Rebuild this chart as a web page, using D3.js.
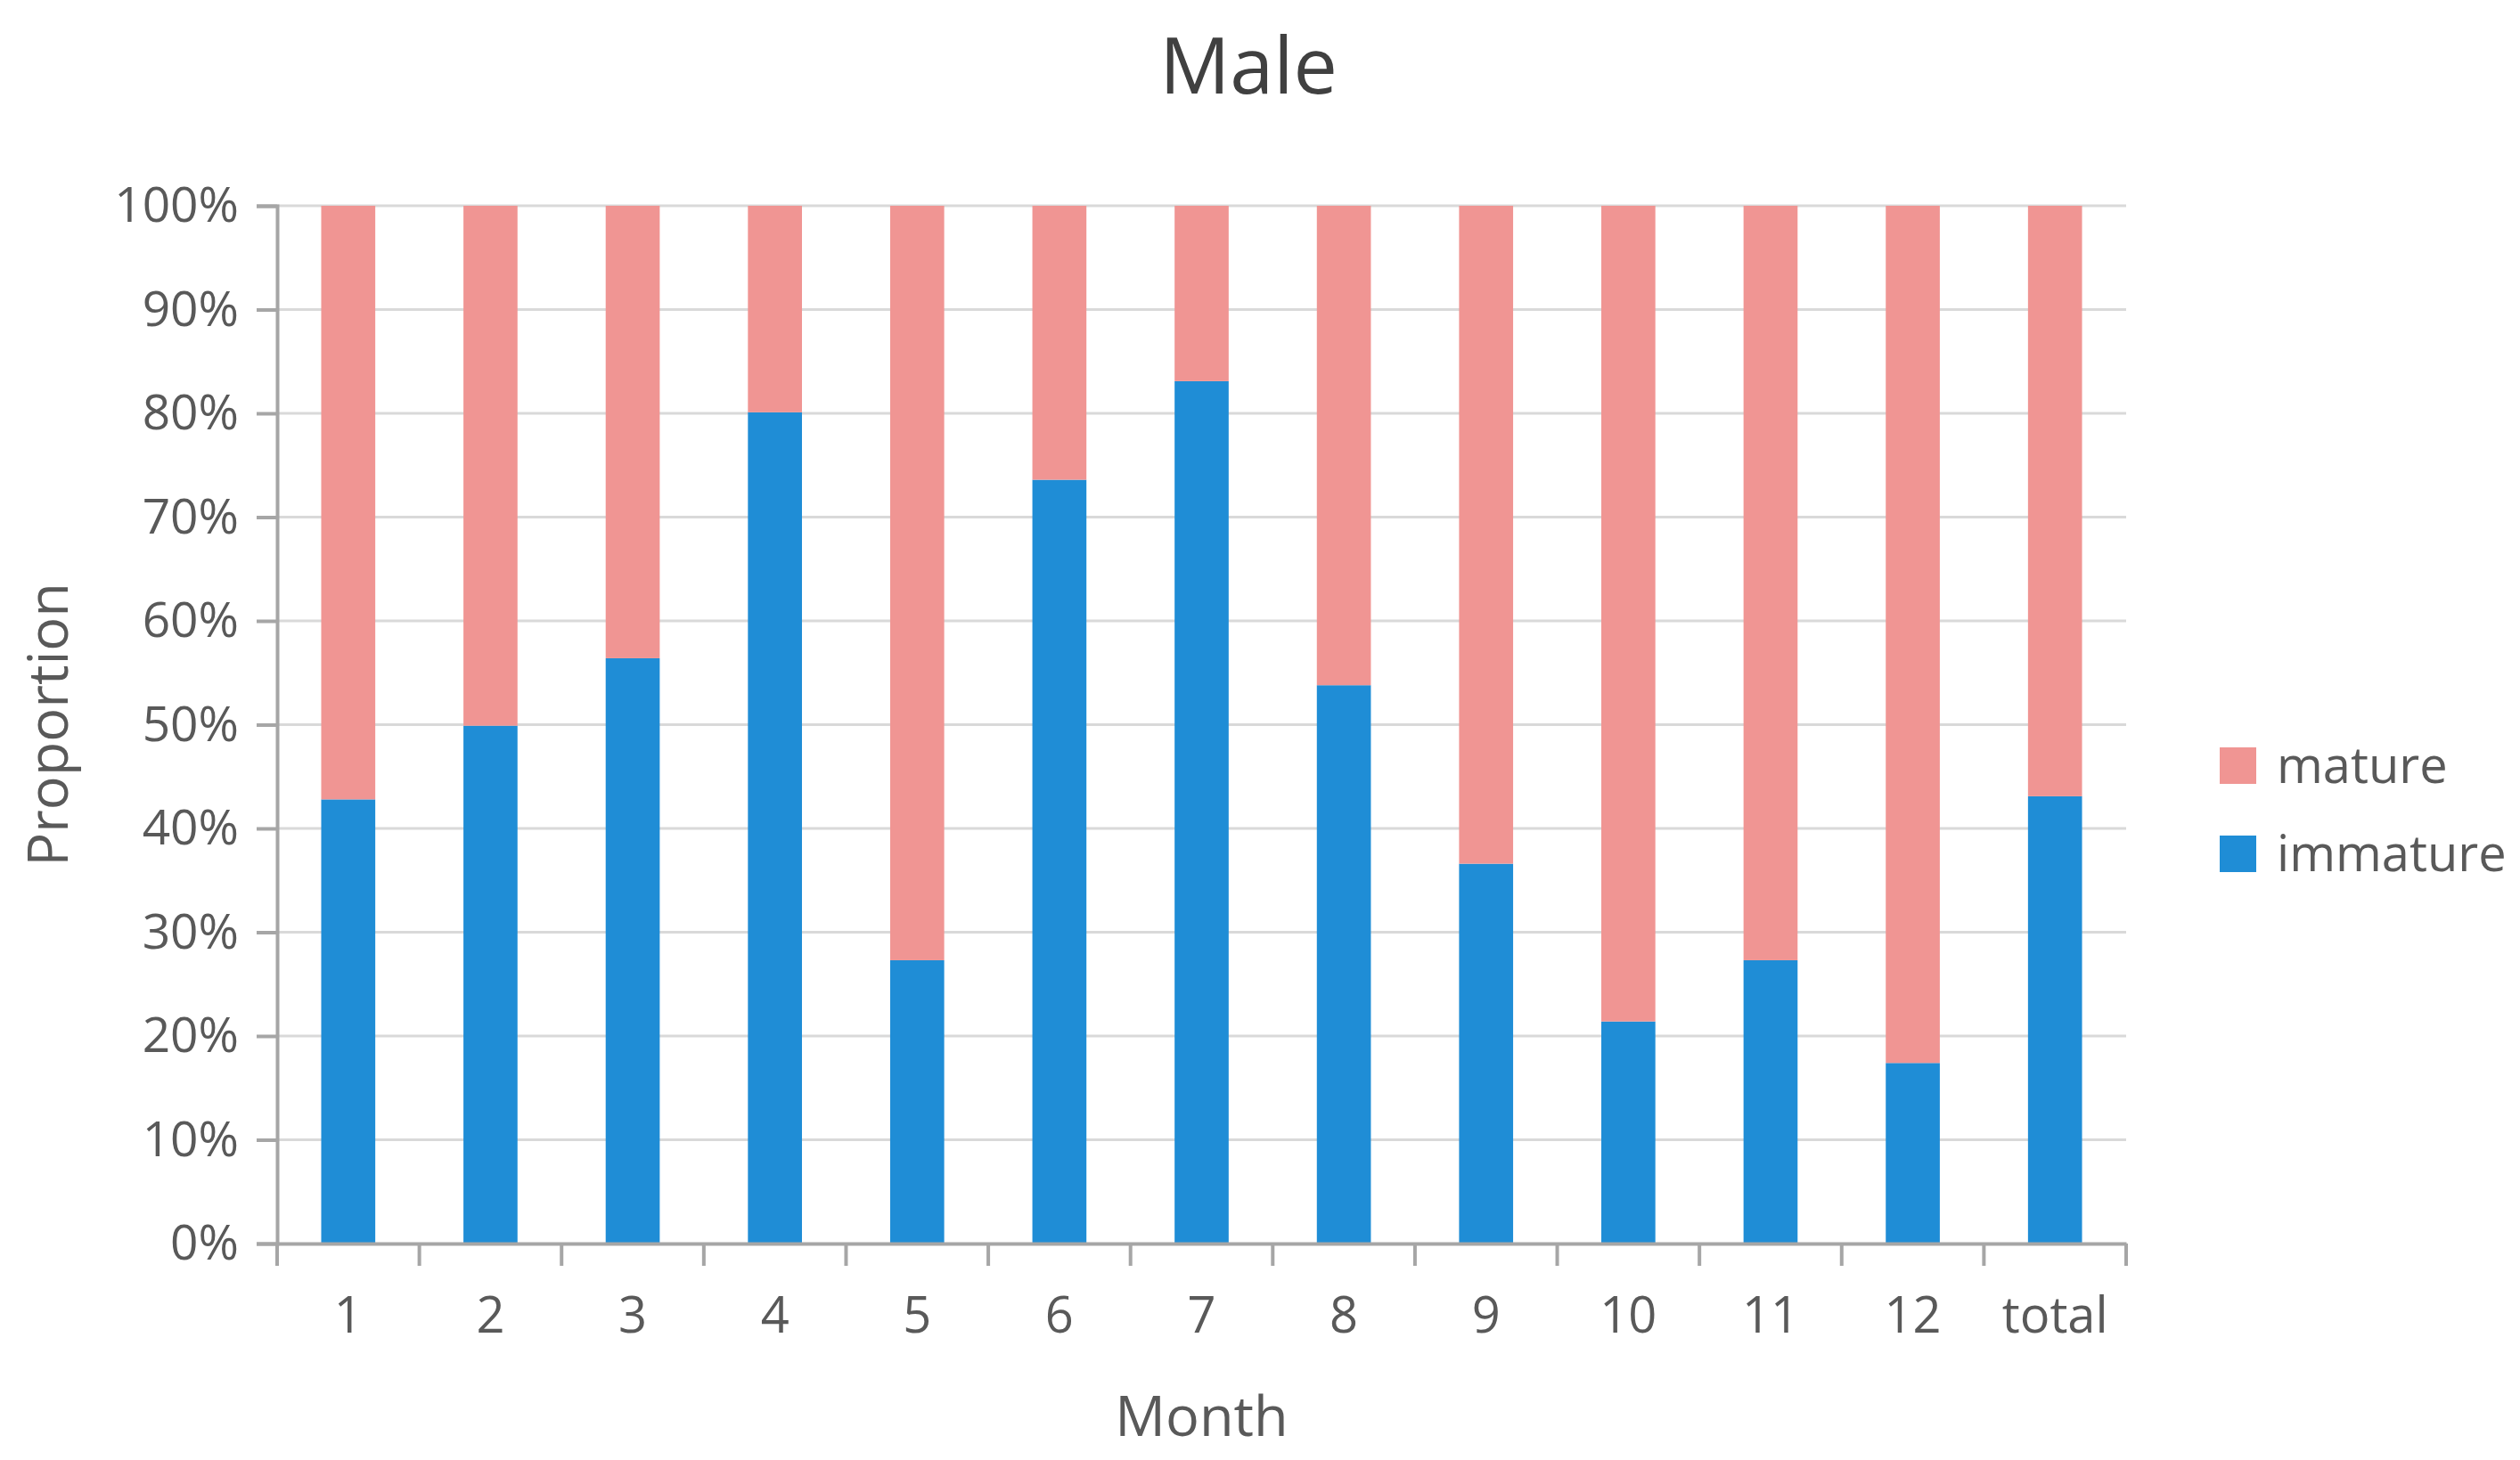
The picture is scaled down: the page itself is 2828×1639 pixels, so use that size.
<!DOCTYPE html>
<html>
<head>
<meta charset="utf-8">
<script src="https://cdn.jsdelivr.net/npm/d3@7"></script>
<style>
  body { margin: 0; background: #fff; }
  text { font-family: "Open Sans", "Noto Sans", sans-serif; }
</style>
</head>
<body>
<div id="chart"></div>
<script>
var months = ['1', '2', '3', '4', '5', '6', '7', '8', '9', '10', '11', '12', 'total'];
var immature = [0.428, 0.499, 0.564, 0.801, 0.273, 0.736, 0.831, 0.538, 0.366, 0.214, 0.273, 0.174, 0.431];
var mature = immature.map(function(v) { return 1 - v; });
var seriesNames = ['immature', 'mature'];
var colors = {'immature': '#1f8dd6', 'mature': '#f09593'};
var yTicks = [0, 0.1, 0.2, 0.3, 0.4, 0.5, 0.6, 0.7, 0.8, 0.9, 1];

var width = 2828, height = 1639;
var margin = {left: 311, right: 442, top: 231, bottom: 243};

var svg = d3.select('#chart').append('svg')
    .attr('width', width)
    .attr('height', height);

var rows = months.map(function(m, i) {
    return {month: m, immature: immature[i], mature: mature[i]};
});

var x = d3.scaleBand()
    .domain(months)
    .range([margin.left, width - margin.right])
    .paddingInner(0.62)
    .paddingOuter(0.31);

var y = d3.scaleLinear()
    .domain([0, 1])
    .range([height - margin.bottom, margin.top]);

/* сетка */
svg.append('g')
    .selectAll('line')
    .data(yTicks.slice(1))
    .enter().append('line')
    .attr('x1', margin.left)
    .attr('x2', width - margin.right)
    .attr('y1', function(d) { return y(d); })
    .attr('y2', function(d) { return y(d); })
    .attr('stroke', '#d9d9d9')
    .attr('stroke-width', 3);

var stack = d3.stack().keys(seriesNames);
var layers = stack(rows);

svg.append('g')
    .selectAll('g')
    .data(layers)
    .enter().append('g')
    .attr('fill', function(d) { return colors[d.key]; })
    .selectAll('rect')
    .data(function(d) { return d; })
    .enter().append('rect')
    .attr('x', function(d) { return x(d.data.month); })
    .attr('width', x.bandwidth())
    .attr('y', function(d) { return y(d[1]); })
    .attr('height', function(d) { return y(d[0]) - y(d[1]); });

/* оси */
var yAxis = d3.axisLeft(y)
    .tickValues(yTicks)
    .tickFormat(d3.format('.0%'))
    .tickSize(23)
    .tickPadding(20);

var gy = svg.append('g')
    .attr('transform', 'translate(' + margin.left + ',0)')
    .call(yAxis);
gy.select('.domain').attr('stroke', '#a6a6a6').attr('stroke-width', 4);
gy.selectAll('.tick line').attr('stroke', '#a6a6a6').attr('stroke-width', 4);
gy.selectAll('.tick text')
    .attr('font-size', 55)
    .attr('fill', '#595959')
    .attr('font-family', '"Open Sans", sans-serif');

var xAxis = d3.axisBottom(x)
    .tickSize(0)
    .tickPadding(60);

var gx = svg.append('g')
    .attr('transform', 'translate(0,' + (height - margin.bottom) + ')')
    .call(xAxis);
gx.select('.domain').attr('stroke', '#a6a6a6').attr('stroke-width', 4);
gx.selectAll('.tick text')
    .attr('font-size', 56)
    .attr('fill', '#595959')
    .attr('font-family', '"Open Sans", sans-serif');

/* засечки между категориями */
var step = x.step();
var boundaries = months.map(function(m) { return x(m) - (step - x.bandwidth()) / 2; });
boundaries.push(width - margin.right);
gx.selectAll('.sep')
    .data(boundaries)
    .enter().append('line')
    .attr('class', 'sep')
    .attr('x1', function(d) { return d; })
    .attr('x2', function(d) { return d; })
    .attr('y1', 0)
    .attr('y2', 25)
    .attr('stroke', '#a6a6a6')
    .attr('stroke-width', 4);

/* заголовки */
svg.append('text')
    .attr('x', 1401)
    .attr('y', 105)
    .attr('text-anchor', 'middle')
    .attr('font-size', 88)
    .attr('fill', '#404040')
    .text('Male');

svg.append('text')
    .attr('x', (margin.left + width - margin.right) / 2)
    .attr('y', 1612)
    .attr('text-anchor', 'middle')
    .attr('font-size', 63)
    .attr('fill', '#595959')
    .text('Month');

svg.append('text')
    .attr('transform', 'translate(76,' + ((margin.top + height - margin.bottom) / 2) + ') rotate(-90)')
    .attr('text-anchor', 'middle')
    .attr('font-size', 63)
    .attr('fill', '#595959')
    .text('Proportion');

/* легенда */
var legendItems = ['mature', 'immature'];
var legend = svg.append('g')
    .attr('transform', 'translate(2491,839)');
legendItems.forEach(function(name, i) {
    var row = legend.append('g').attr('transform', 'translate(0,' + (i * 99) + ')');
    row.append('rect')
        .attr('width', 41)
        .attr('height', 41)
        .attr('fill', colors[name]);
    row.append('text')
        .attr('x', 64)
        .attr('y', 40)
        .attr('font-size', 56)
        .attr('fill', '#595959')
        .text(name);
});
</script>
</body>
</html>
